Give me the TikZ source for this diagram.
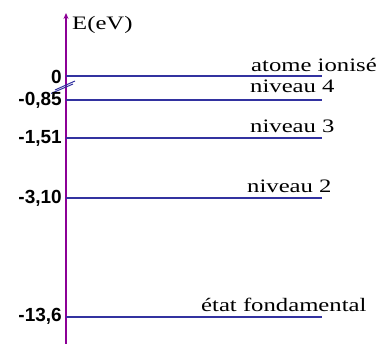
\documentclass[tikz,border=0pt]{standalone}
\usepackage{fontspec}
\setmainfont{Liberation Serif}
\newfontfamily\lblfont[FakeStretch=1.3]{Liberation Serif}
\newfontfamily\numfont{Liberation Sans}
\usetikzlibrary{arrows.meta}
\definecolor{axiscol}{RGB}{140,0,150}
\definecolor{levelcol}{RGB}{50,50,160}
\tikzset{
  levelline/.style={draw=levelcol, line width=1.3pt},
  numlabel/.style={anchor=east, inner sep=0pt, font=\numfont\bfseries\fontsize{19}{19}\selectfont},
  levellabel/.style={anchor=base west, inner sep=0pt, font=\lblfont\fontsize{19}{19}\selectfont},
}
\begin{document}
\begin{tikzpicture}[x=1pt,y=1pt]
\useasboundingbox (0,0) rectangle (376,-344);
% axis
\coordinate (axbot) at (66,-344);
\coordinate (axtop) at (66,-13);
\draw[axiscol, line width=1.6pt, -{Stealth[length=6pt,width=5pt]}] (axbot) -- (axtop);
\node[levellabel] (elabel) at (72,-30) {E(eV)};
% levels
\coordinate (s0) at (66,-76);   \coordinate (e0) at (322,-76);
\coordinate (s1) at (66,-100);  \coordinate (e1) at (322,-100);
\coordinate (s2) at (66,-138);  \coordinate (e2) at (322,-138);
\coordinate (s3) at (66,-198);  \coordinate (e3) at (322,-198);
\coordinate (s4) at (66,-317);  \coordinate (e4) at (322,-317);
\draw[levelline] (s0) -- (e0);
\draw[levelline] (s1) -- (e1);
\draw[levelline] (s2) -- (e2);
\draw[levelline] (s3) -- (e3);
\draw[levelline] (s4) -- (e4);
% break marks
\coordinate (b1a) at (55,-90); \coordinate (b1b) at (75,-81);
\coordinate (b2a) at (51,-93.5); \coordinate (b2b) at (73,-84);
\draw[levelcol, line width=1pt] (b1a) -- (b1b);
\draw[levelcol, line width=1pt] (b2a) -- (b2b);
% value labels
\node[numlabel] (n0) at (62,-77) {0};
\node[numlabel] (n1) at (62,-100) {-0,85};
\node[numlabel] (n2) at (62,-138) {-1,51};
\node[numlabel] (n3) at (62,-198) {-3,10};
\node[numlabel] (n4) at (62,-316) {-13,6};
% level labels
\node[levellabel] (t0) at (251,-72) {atome ionisé};
\node[levellabel] (t1) at (250,-93) {niveau 4};
\node[levellabel] (t2) at (250,-133) {niveau 3};
\node[levellabel] (t3) at (247,-193) {niveau 2};
\node[levellabel] (t4) at (201,-312) {état fondamental};
\end{tikzpicture}
\end{document}
